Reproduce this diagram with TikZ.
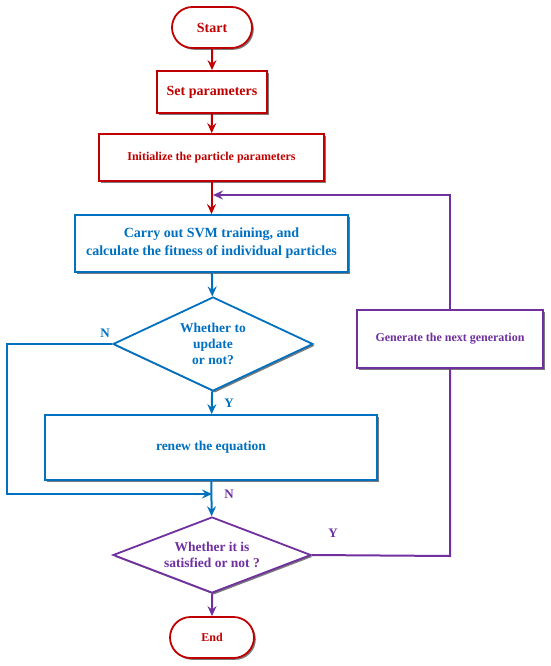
\documentclass[tikz,border=0pt]{standalone}
\usepackage{fontspec}
\setmainfont{Liberation Serif}
\usetikzlibrary{shapes.geometric,shapes.misc,arrows.meta,shadows}
\definecolor{cred}{HTML}{C00000}
\definecolor{cblue}{HTML}{0070C0}
\definecolor{cpurple}{HTML}{7030A0}
\tikzset{
  shad/.style={drop shadow={shadow xshift=1.8pt,shadow yshift=-1.8pt,fill=black!65,opacity=0.8}},
  boxbase/.style={draw,line width=1.8pt,fill=white,shad,align=center,inner sep=0pt,font=\bfseries},
  redbox/.style={boxbase,rectangle,draw=cred,text=cred},
  bluebox/.style={boxbase,rectangle,draw=cblue,text=cblue},
  purplebox/.style={boxbase,rectangle,draw=cpurple,text=cpurple},
  term/.style={boxbase,rounded rectangle,draw=cred,text=cred},
  decide/.style={boxbase,diamond,aspect=2.2},
  conn/.style={line width=2pt,-{Stealth[length=10pt,width=9pt,inset=3.5pt]}},
  plain/.style={line width=2pt},
  lbl/.style={font=\bfseries\fontsize{13}{15}\selectfont}
}
\begin{document}
\begin{tikzpicture}[x=1pt,y=-1pt]
\useasboundingbox (0,0) rectangle (550,666);
\node[term,minimum width=80pt,minimum height=41pt,font=\bfseries\fontsize{14}{16}\selectfont] (start) at (212,27.5) {Start};
\node[redbox,minimum width=110pt,minimum height=42pt,font=\bfseries\fontsize{14}{16}\selectfont] (setp) at (212,92) {Set parameters};
\node[redbox,minimum width=225pt,minimum height=47pt,font=\bfseries\fontsize{12}{14}\selectfont] (init) at (211.5,157.5) {Initialize the particle parameters};
\node[bluebox,minimum width=273pt,minimum height=57pt,font=\bfseries\fontsize{14}{18}\selectfont] (svm) at (211.5,243.5) {Carry out SVM training, and\\calculate the fitness of individual particles};
\node[decide,draw=cblue,text=cblue,minimum width=200pt,minimum height=94pt,font=\bfseries\fontsize{13.5}{16}\selectfont] (d1) at (213,344) {Whether to\\update\\or not?};
\node[bluebox,minimum width=332pt,minimum height=65pt,font=\bfseries\fontsize{13.5}{16}\selectfont] (renew) at (211,447.5) {renew the equation};
\node[decide,draw=cpurple,text=cpurple,minimum width=198pt,minimum height=76pt,font=\bfseries\fontsize{13.5}{15.5}\selectfont] (d2) at (212,555) {Whether it is\\satisfied or not ?};
\node[term,minimum width=84pt,minimum height=41pt,font=\bfseries\fontsize{12}{14}\selectfont] (end) at (212,637.5) {End};
\coordinate (loopin) at (213,195);
\coordinate (merge) at (212,494);
\coordinate (leftc) at (7,344);
\coordinate (rightc) at (450,556);
% purple feedback loop (behind generate box)
\draw[plain,draw=cpurple] (d2.east) -- (rightc) -- (450,339);
\draw[conn,draw=cpurple] (450,339) |- (loopin);
\node[purplebox,minimum width=186pt,minimum height=58pt,font=\bfseries\fontsize{12}{14}\selectfont] (gen) at (450,339) {Generate the next generation};
% red flow
\draw[conn,draw=cred] (start) -- (setp);
\draw[conn,draw=cred] (setp) -- (init);
\draw[conn,draw=cred] (init) -- (svm);
% blue flow
\draw[conn,draw=cblue] (svm) -- (d1);
\draw[conn,draw=cblue] (d1) -- (renew);
\draw[conn,draw=cblue] (d1.west) -- (leftc) |- (merge);
\draw[conn,draw=cblue] (renew) -- (d2);
% purple
\draw[conn,draw=cpurple] (d2) -- (end);
% labels
\node[lbl,text=cblue] (n1) at (105,333) {N};
\node[lbl,text=cblue] (y1) at (229,403) {Y};
\node[lbl,text=cpurple] (n2) at (229,494) {N};
\node[lbl,text=cpurple] (y2) at (333,533) {Y};
\end{tikzpicture}
\end{document}
